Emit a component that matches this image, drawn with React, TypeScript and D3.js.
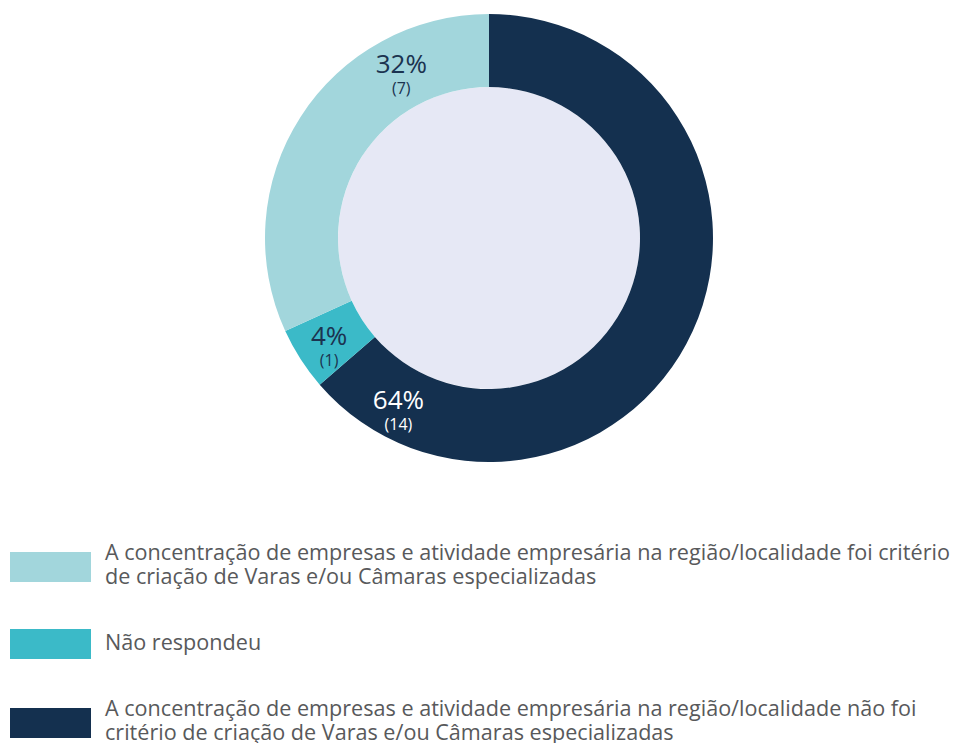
import React from 'react';
import * as d3 from 'd3';

// slices, clockwise from 12 o'clock
const categories = [
  'A concentração de empresas e atividade empresária na região/localidade não foi critério de criação de Varas e/ou Câmaras especializadas',
  'Não respondeu',
  'A concentração de empresas e atividade empresária na região/localidade foi critério de criação de Varas e/ou Câmaras especializadas',
];
const counts = [14, 1, 7];
const percentLabels = ['64%', '4%', '32%'];
const colors = ['#14304f', '#3bbac8', '#a2d6dc'];
const labelColors = ['#ffffff', '#1b3350', '#1b3350'];
// where along each slice the label sits (0 = slice start, 1 = slice end)
const labelAt = [0.91, 0.5, 0.76];

// legend order (top to bottom) and its wrapped lines
const legendOrder = [2, 1, 0];
const legendLines = [
  ['A concentração de empresas e atividade empresária na região/localidade foi critério', 'de criação de Varas e/ou Câmaras especializadas'],
  ['Não respondeu'],
  ['A concentração de empresas e atividade empresária na região/localidade não foi', 'critério de criação de Varas e/ou Câmaras especializadas'],
];

const W = 956;
const H = 743;
const cx = 489;
const cy = 238;
const outerR = 224;
const innerR = 151;
const labelR = 190;

export default function App() {
  const pie = d3.pie<number>().sort(null).value(d => d);
  const arcs = pie(counts);
  const arc = d3.arc<d3.PieArcDatum<number>>().innerRadius(innerR).outerRadius(outerR);

  const legendTop = [552, 629, 708];

  return (
    <svg width={W} height={H} style={{ position: 'absolute', left: 0, top: 0, background: '#fff' }}
      fontFamily="'Open Sans', sans-serif">
      <g transform={`translate(${cx},${cy})`}>
        <circle r={innerR} fill="#e6e8f5" />
        {arcs.map((a, i) => (
          <path key={i} d={arc(a) || ''} fill={colors[i]} />
        ))}
        {arcs.map((a, i) => {
          const ang = a.startAngle + (a.endAngle - a.startAngle) * labelAt[i];
          const x = labelR * Math.sin(ang);
          const y = -labelR * Math.cos(ang);
          return (
            <g key={i} transform={`translate(${x},${y})`} fill={labelColors[i]} textAnchor="middle">
              <text y={4} fontSize={26}>{percentLabels[i]}</text>
              <text y={25} fontSize={16}>({counts[i]})</text>
            </g>
          );
        })}
      </g>
      <g>
        {legendOrder.map((ci, k) => (
          <g key={ci} transform={`translate(10,${legendTop[k]})`}>
            <rect width={81} height={30} fill={colors[ci]} />
            {legendLines[k].map((ln, j) => (
              <text key={j} x={95} y={(legendLines[k].length === 1 ? 21 : 7.5) + j * 24}
                fontSize={21.6} fill="#58595b">{ln}</text>
            ))}
          </g>
        ))}
      </g>
    </svg>
  );
}
